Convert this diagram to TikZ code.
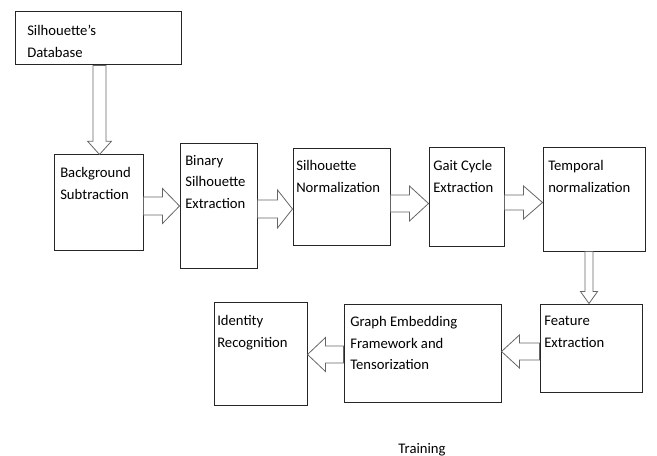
\documentclass[tikz,border=0pt]{standalone}
\usepackage{fontspec}
\setmainfont{Carlito}
\usetikzlibrary{calc,fit}

\tikzset{
  box/.style={draw=black!85, line width=0.75pt, inner sep=0pt},
  boxtext/.style={anchor=north west, inner sep=0pt, align=left, font=\fontsize{11}{16.2}\selectfont},
  blockarrow/.style n args={3}{draw=black!60, fill=white, line width=0.6pt, line join=miter,
    to path={($(\tikztostart)!#1!90:(\tikztotarget)$)
      -- ($(\tikztotarget)!#3!(\tikztostart)!#1!90:(\tikztotarget)$)
      -- ($(\tikztotarget)!#3!(\tikztostart)!#2!90:(\tikztotarget)$)
      -- (\tikztotarget)
      -- ($(\tikztotarget)!#3!(\tikztostart)!#2!-90:(\tikztotarget)$)
      -- ($(\tikztotarget)!#3!(\tikztostart)!#1!-90:(\tikztotarget)$)
      -- ($(\tikztostart)!#1!-90:(\tikztotarget)$)
      -- cycle}}
}

\begin{document}
\begin{tikzpicture}[x=0.75pt,y=0.75pt,yscale=-1,xscale=1]
    \useasboundingbox (0,0) rectangle (657,456);
    %Shape: Rectangle [db]
    \node[box, fit={(15,12) (181,65)}] (db) {};
    %Shape: Rectangle [bgsub]
    \node[box, fit={(54,155) (143,250)}] (bgsub) {};
    %Shape: Rectangle [binsil]
    \node[box, fit={(180,144) (257,268)}] (binsil) {};
    %Shape: Rectangle [silnorm]
    \node[box, fit={(293,149) (390,245)}] (silnorm) {};
    %Shape: Rectangle [gait]
    \node[box, fit={(429,148) (504,246)}] (gait) {};
    %Shape: Rectangle [tempnorm]
    \node[box, fit={(543,148) (645,251)}] (tempnorm) {};
    %Shape: Rectangle [feat]
    \node[box, fit={(540,304) (642,392)}] (feat) {};
    %Shape: Rectangle [graph]
    \node[box, fit={(344,304) (501,402)}] (graph) {};
    %Shape: Rectangle [ident]
    \node[box, fit={(214,302) (307,405)}] (ident) {};

    %Block Arrows
    \draw[blockarrow={4.9pt}{9pt}{10pt}] (db.south -| 99.5,0) to (bgsub.north -| 99.5,0);
    \draw[blockarrow={6.75pt}{13.1pt}{12.75pt}] (bgsub.east |- 0,206) to (binsil.west |- 0,206);
    \draw[blockarrow={6.75pt}{14.25pt}{11.25pt}] (binsil.east |- 0,209) to (silnorm.west |- 0,209);
    \draw[blockarrow={6.4pt}{13.1pt}{14.25pt}] (silnorm.east |- 0,203.5) to (gait.west |- 0,203.5);
    \draw[blockarrow={5.6pt}{12.4pt}{14.25pt}] (gait.east |- 0,202.5) to (tempnorm.west |- 0,202.5);
    \draw[blockarrow={3pt}{6.4pt}{9pt}] (tempnorm.south -| 589,0) to (feat.north -| 589,0);
    \draw[blockarrow={6.4pt}{12.4pt}{13.5pt}] (feat.west |- 0,351.5) to (graph.east |- 0,351.5);
    \draw[blockarrow={6.4pt}{12.75pt}{13.5pt}] (graph.west |- 0,354.5) to (ident.east |- 0,354.5);

    % Text Node
    \node[boxtext] (dbtext) at (27,25) {Silhouette’s\\Database};
    % Text Node
    \node[boxtext] (bgsubtext) at (60,167) {Background\\Subtraction};
    % Text Node
    \node[boxtext] (binsiltext) at (185,155) {Binary\\Silhouette\\Extraction};
    % Text Node
    \node[boxtext] (silnormtext) at (296,160) {Silhouette\\Normalization};
    % Text Node
    \node[boxtext] (gaittext) at (433,160) {Gait Cycle\\Extraction};
    % Text Node
    \node[boxtext] (tempnormtext) at (548,160) {Temporal\\normalization};
    % Text Node
    \node[boxtext] (feattext) at (544,316) {Feature\\Extraction};
    % Text Node
    \node[boxtext] (graphtext) at (350,316) {Graph Embedding\\Framework and\\Tensorization};
    % Text Node
    \node[boxtext] (identtext) at (217,315) {Identity\\Recognition};
    % Text Node
    \node[anchor=base, inner sep=0pt, font=\fontsize{11}{16.2}\selectfont] (training) at (422,453) {Training};
\end{tikzpicture}
\end{document}
